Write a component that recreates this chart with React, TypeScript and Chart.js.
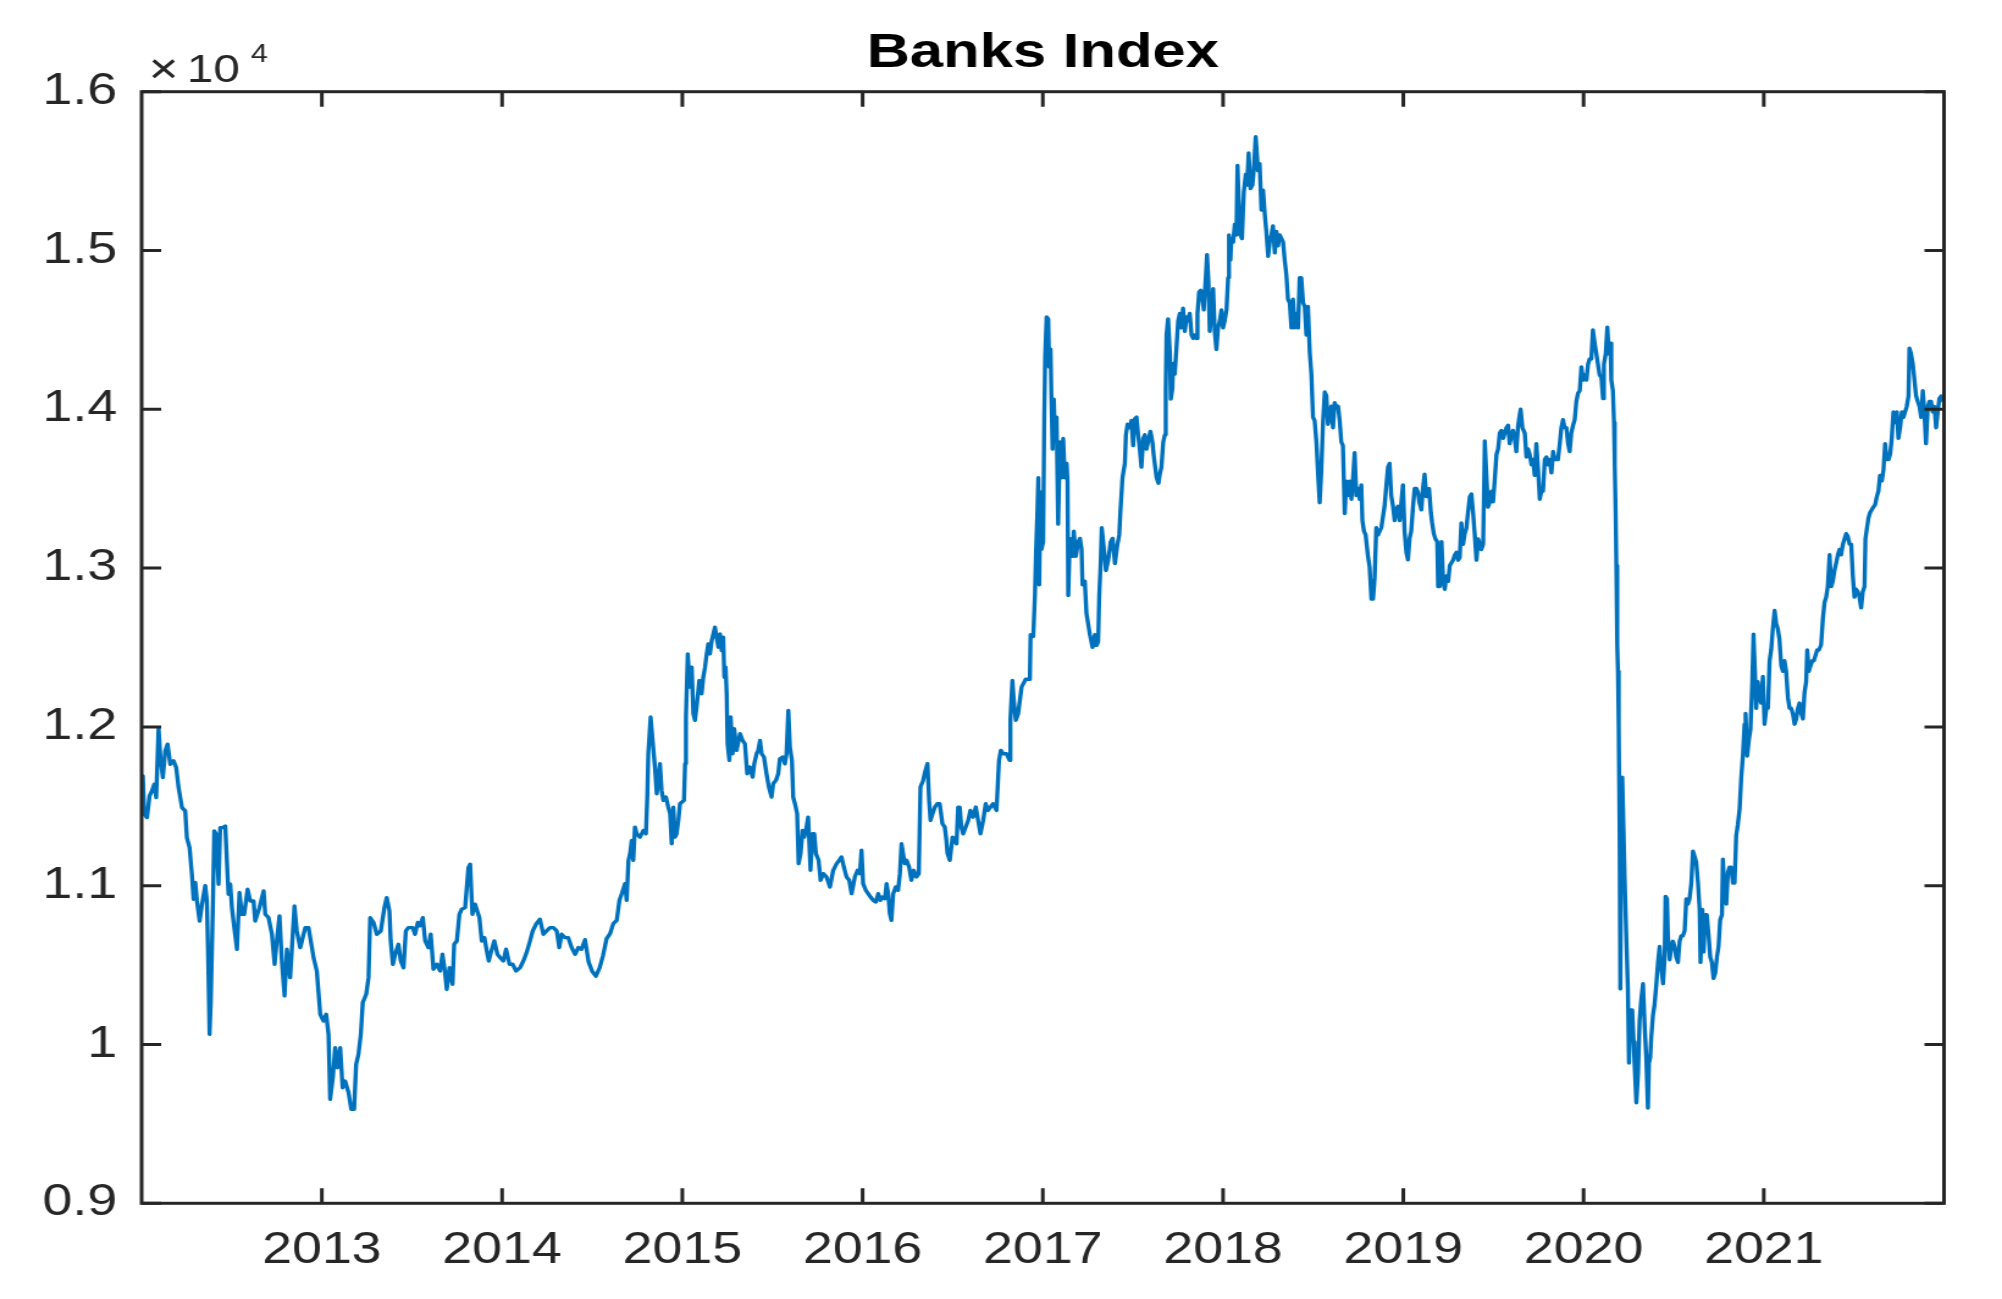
import React, { useEffect, useRef } from "react";
import { Chart, registerables } from "chart.js";

Chart.register(...registerables);

const titleText = "Banks Index";
const exponentBase = "10";
const exponentPower = "4";
const yearTicks = [2013, 2014, 2015, 2016, 2017, 2018, 2019, 2020, 2021];
const yTickValues = [9000, 10000, 11000, 12000, 13000, 14000, 15000, 16000];

// decimal-year dates of the samples
const dates = [
  2012.003, 2012.007, 2012.015, 2012.030, 2012.044, 2012.057, 2012.070, 2012.081, 2012.094, 2012.104,
  2012.118, 2012.131, 2012.144, 2012.159, 2012.177, 2012.192, 2012.205, 2012.224, 2012.242, 2012.251,
  2012.266, 2012.279, 2012.288, 2012.298, 2012.307, 2012.322, 2012.335, 2012.353, 2012.362, 2012.368,
  2012.377, 2012.384, 2012.396, 2012.403, 2012.414, 2012.427, 2012.436, 2012.451, 2012.464, 2012.473,
  2012.482, 2012.492, 2012.501, 2012.514, 2012.529, 2012.543, 2012.556, 2012.569, 2012.588, 2012.603,
  2012.621, 2012.630, 2012.654, 2012.677, 2012.686, 2012.704, 2012.723, 2012.738, 2012.750, 2012.765,
  2012.778, 2012.793, 2012.806, 2012.824, 2012.848, 2012.861, 2012.880, 2012.908, 2012.926, 2012.945,
  2012.954, 2012.972, 2012.991,
  2013.009, 2013.024, 2013.037, 2013.046, 2013.061, 2013.074, 2013.087, 2013.102, 2013.115, 2013.129,
  2013.148, 2013.163, 2013.179, 2013.190, 2013.203, 2013.216, 2013.227, 2013.246, 2013.259, 2013.268,
  2013.287, 2013.305, 2013.327, 2013.347, 2013.360, 2013.375, 2013.382, 2013.394, 2013.407, 2013.425,
  2013.438, 2013.453, 2013.466, 2013.480, 2013.504, 2013.517, 2013.532, 2013.545, 2013.560, 2013.573,
  2013.591, 2013.604, 2013.619, 2013.638, 2013.656, 2013.669, 2013.680, 2013.693, 2013.708, 2013.725,
  2013.734, 2013.749, 2013.763, 2013.776, 2013.795, 2013.813, 2013.823, 2013.835, 2013.850, 2013.874,
  2013.887, 2013.902, 2013.915, 2013.926, 2013.943, 2013.957, 2013.974, 2013.989,
  2014.007, 2014.022, 2014.041, 2014.059, 2014.077, 2014.100, 2014.118, 2014.136, 2014.155, 2014.170,
  2014.188, 2014.210, 2014.229, 2014.247, 2014.266, 2014.284, 2014.303, 2014.317, 2014.330, 2014.349,
  2014.367, 2014.386, 2014.405, 2014.423, 2014.440, 2014.460, 2014.480, 2014.500, 2014.520, 2014.540,
  2014.560, 2014.580, 2014.599, 2014.617, 2014.636, 2014.651, 2014.664, 2014.682, 2014.691, 2014.701,
  2014.710, 2014.719, 2014.728, 2014.737, 2014.747, 2014.765, 2014.784, 2014.798, 2014.806, 2014.811,
  2014.824, 2014.835, 2014.848, 2014.858, 2014.876, 2014.885, 2014.895, 2014.909, 2014.922, 2014.932,
  2014.941, 2014.950, 2014.959, 2014.968, 2014.978, 2014.987,
  2015.009, 2015.015, 2015.020, 2015.030, 2015.042, 2015.052, 2015.061, 2015.070, 2015.079, 2015.094,
  2015.107, 2015.116, 2015.126, 2015.135, 2015.144, 2015.153, 2015.163, 2015.172, 2015.181, 2015.190,
  2015.200, 2015.209, 2015.218, 2015.227, 2015.233, 2015.240, 2015.246, 2015.251, 2015.261, 2015.268,
  2015.279, 2015.288, 2015.301, 2015.320, 2015.334, 2015.347, 2015.360, 2015.375, 2015.390, 2015.399,
  2015.412, 2015.421, 2015.431, 2015.440, 2015.453, 2015.467, 2015.480, 2015.495, 2015.504, 2015.519,
  2015.532, 2015.541, 2015.556, 2015.569, 2015.578, 2015.588, 2015.597, 2015.608, 2015.615, 2015.625,
  2015.637, 2015.645, 2015.656, 2015.667, 2015.676, 2015.689, 2015.698, 2015.711, 2015.722, 2015.732,
  2015.741, 2015.756, 2015.767, 2015.782, 2015.800, 2015.819, 2015.837, 2015.856, 2015.870, 2015.883,
  2015.896, 2015.911, 2015.926, 2015.939, 2015.957, 2015.972, 2015.985, 2015.994,
  2016.003, 2016.018, 2016.031, 2016.044, 2016.059, 2016.074, 2016.087, 2016.099, 2016.111, 2016.124,
  2016.133, 2016.142, 2016.151, 2016.160, 2016.170, 2016.184, 2016.197, 2016.207, 2016.216, 2016.225,
  2016.234, 2016.244, 2016.258, 2016.271, 2016.284, 2016.299, 2016.312, 2016.321, 2016.336, 2016.349,
  2016.360, 2016.369, 2016.377, 2016.388, 2016.401, 2016.414, 2016.428, 2016.443, 2016.456, 2016.465,
  2016.471, 2016.484, 2016.499, 2016.511, 2016.521, 2016.530, 2016.539, 2016.548, 2016.558, 2016.572,
  2016.586, 2016.598, 2016.613, 2016.628, 2016.641, 2016.654, 2016.669, 2016.683, 2016.696, 2016.709,
  2016.724, 2016.743, 2016.757, 2016.767, 2016.780, 2016.798, 2016.816, 2016.820, 2016.831, 2016.839,
  2016.850, 2016.863, 2016.882, 2016.905, 2016.928, 2016.932, 2016.947, 2016.956, 2016.962, 2016.969,
  2016.975, 2016.980, 2016.987, 2016.993,
  2017.002, 2017.008, 2017.013, 2017.021, 2017.030, 2017.035, 2017.043, 2017.048, 2017.054, 2017.061,
  2017.067, 2017.076, 2017.085, 2017.095, 2017.104, 2017.113, 2017.122, 2017.132, 2017.137, 2017.141,
  2017.150, 2017.165, 2017.172, 2017.183, 2017.196, 2017.206, 2017.215, 2017.220, 2017.233, 2017.242,
  2017.252, 2017.261, 2017.276, 2017.289, 2017.298, 2017.307, 2017.313, 2017.320, 2017.327, 2017.339,
  2017.350, 2017.363, 2017.376, 2017.387, 2017.400, 2017.413, 2017.424, 2017.431, 2017.442, 2017.455,
  2017.461, 2017.470, 2017.483, 2017.492, 2017.501, 2017.510, 2017.520, 2017.529, 2017.538, 2017.547,
  2017.557, 2017.566, 2017.575, 2017.584, 2017.597, 2017.608, 2017.616, 2017.631, 2017.642, 2017.649,
  2017.658, 2017.668, 2017.677, 2017.682, 2017.686, 2017.695, 2017.705, 2017.710, 2017.719, 2017.723,
  2017.732, 2017.741, 2017.751, 2017.760, 2017.769, 2017.778, 2017.788, 2017.797, 2017.806, 2017.815,
  2017.825, 2017.834, 2017.843, 2017.852, 2017.858, 2017.867, 2017.876, 2017.886, 2017.893, 2017.904,
  2017.911, 2017.919, 2017.926, 2017.935, 2017.945, 2017.954, 2017.963, 2017.972, 2017.982, 2017.991,
  2018.000, 2018.009, 2018.019, 2018.028, 2018.033, 2018.041, 2018.046, 2018.056, 2018.065, 2018.074,
  2018.080, 2018.087, 2018.096, 2018.105, 2018.115, 2018.126, 2018.133, 2018.142, 2018.152, 2018.163,
  2018.170, 2018.181, 2018.189, 2018.194, 2018.203, 2018.213, 2018.222, 2018.231, 2018.240, 2018.250,
  2018.259, 2018.268, 2018.277, 2018.287, 2018.296, 2018.305, 2018.314, 2018.324, 2018.333, 2018.342,
  2018.351, 2018.360, 2018.370, 2018.379, 2018.388, 2018.397, 2018.407, 2018.416, 2018.425, 2018.434,
  2018.444, 2018.453, 2018.462, 2018.471, 2018.481, 2018.490, 2018.499, 2018.508, 2018.518, 2018.527,
  2018.536, 2018.545, 2018.555, 2018.564, 2018.573, 2018.582, 2018.591, 2018.601, 2018.610, 2018.619,
  2018.628, 2018.638, 2018.647, 2018.656, 2018.665, 2018.675, 2018.684, 2018.693, 2018.702, 2018.712,
  2018.721, 2018.730, 2018.739, 2018.749, 2018.758, 2018.767, 2018.773, 2018.782, 2018.791, 2018.804,
  2018.813, 2018.823, 2018.832, 2018.841, 2018.850, 2018.860, 2018.869, 2018.878, 2018.887, 2018.896,
  2018.906, 2018.915, 2018.924, 2018.933, 2018.943, 2018.952, 2018.961, 2018.970, 2018.980, 2018.989,
  2018.998,
  2019.007, 2019.017, 2019.026, 2019.035, 2019.044, 2019.054, 2019.063, 2019.072, 2019.081, 2019.090,
  2019.100, 2019.109, 2019.118,
  2019.128, 2019.143, 2019.153, 2019.160, 2019.169, 2019.178, 2019.188, 2019.193,
  2019.202, 2019.212, 2019.221, 2019.230, 2019.239, 2019.249, 2019.258, 2019.267, 2019.276, 2019.286,
  2019.295, 2019.304, 2019.313, 2019.322, 2019.332, 2019.341, 2019.350, 2019.359, 2019.369, 2019.378,
  2019.387, 2019.396, 2019.406, 2019.415, 2019.424, 2019.433, 2019.443, 2019.452, 2019.461, 2019.470,
  2019.480, 2019.489, 2019.498, 2019.507, 2019.517, 2019.526, 2019.535, 2019.544, 2019.554, 2019.563,
  2019.572, 2019.581, 2019.590, 2019.600, 2019.609, 2019.618, 2019.627, 2019.637, 2019.646, 2019.651,
  2019.661, 2019.674, 2019.683, 2019.692, 2019.701, 2019.711, 2019.720, 2019.729, 2019.738, 2019.748,
  2019.757, 2019.766, 2019.775, 2019.785, 2019.794, 2019.803, 2019.812, 2019.822, 2019.831, 2019.840,
  2019.849, 2019.858, 2019.868, 2019.877, 2019.886, 2019.895, 2019.905, 2019.914, 2019.923, 2019.932,
  2019.942, 2019.951, 2019.960, 2019.969, 2019.979, 2019.988, 2019.997,
  2020.006, 2020.016, 2020.025, 2020.034, 2020.043, 2020.052, 2020.062, 2020.071, 2020.080, 2020.089,
  2020.099, 2020.108, 2020.113, 2020.123, 2020.132, 2020.141, 2020.149, 2020.154, 2020.163, 2020.169,
  2020.173, 2020.178, 2020.182, 2020.187, 2020.191, 2020.195, 2020.200, 2020.204, 2020.209, 2020.215,
  2020.222, 2020.228, 2020.237, 2020.246, 2020.252, 2020.259, 2020.270, 2020.278, 2020.283, 2020.293,
  2020.302, 2020.311, 2020.320, 2020.330, 2020.339, 2020.348, 2020.357, 2020.363, 2020.370, 2020.376,
  2020.385, 2020.394, 2020.404, 2020.413, 2020.422, 2020.431, 2020.441, 2020.450, 2020.455, 2020.463,
  2020.468, 2020.478, 2020.487, 2020.496, 2020.505, 2020.514, 2020.524, 2020.533, 2020.542, 2020.551,
  2020.561, 2020.570, 2020.579, 2020.588, 2020.598, 2020.607, 2020.616, 2020.625, 2020.635, 2020.644,
  2020.649, 2020.659, 2020.666, 2020.675, 2020.684, 2020.694, 2020.703, 2020.712, 2020.721, 2020.731,
  2020.740, 2020.749, 2020.758, 2020.768, 2020.773, 2020.782, 2020.792, 2020.801, 2020.810, 2020.819,
  2020.829, 2020.838, 2020.847, 2020.856, 2020.866, 2020.875, 2020.884, 2020.893, 2020.899, 2020.908,
  2020.917, 2020.926, 2020.936, 2020.943, 2020.951, 2020.958, 2020.967, 2020.976, 2020.986, 2020.995,
  2021.004, 2021.014, 2021.023, 2021.032, 2021.041, 2021.050, 2021.060, 2021.069, 2021.078, 2021.087,
  2021.097, 2021.106, 2021.115, 2021.124, 2021.134, 2021.143, 2021.152, 2021.161, 2021.171, 2021.180,
  2021.189, 2021.198, 2021.208, 2021.217, 2021.226, 2021.235, 2021.241, 2021.250, 2021.259, 2021.269,
  2021.278, 2021.287, 2021.296, 2021.306, 2021.318, 2021.328, 2021.337, 2021.346, 2021.355, 2021.365,
  2021.374, 2021.383, 2021.392, 2021.402, 2021.411, 2021.420, 2021.429, 2021.439, 2021.448, 2021.457,
  2021.466, 2021.476, 2021.485, 2021.494, 2021.503, 2021.512, 2021.522, 2021.531, 2021.540, 2021.549,
  2021.559, 2021.564, 2021.572, 2021.581, 2021.590, 2021.599, 2021.608, 2021.618, 2021.627, 2021.636,
  2021.645, 2021.655, 2021.664, 2021.673, 2021.682, 2021.692, 2021.701, 2021.710, 2021.719, 2021.729,
  2021.738, 2021.747, 2021.756, 2021.766, 2021.775, 2021.784, 2021.793, 2021.803, 2021.808, 2021.817,
  2021.827, 2021.836, 2021.845, 2021.854, 2021.864, 2021.873, 2021.882, 2021.891, 2021.900, 2021.910,
  2021.919, 2021.928, 2021.937, 2021.947, 2021.956, 2021.965, 2021.974, 2021.984, 2021.997,
];

// index level at each date
const values = [
  11576, 11691, 11450, 11429, 11566, 11597, 11639, 11555, 11996, 11807,
  11681, 11849, 11891, 11765, 11786, 11744, 11618, 11492, 11471, 11303,
  11240, 11072, 10915, 11020, 10904, 10778, 10883, 11000, 10904, 10610,
  10064, 10274, 10904, 11345, 11324, 11009, 11366, 11366, 11376, 11156,
  10946, 11009, 10862, 10736, 10600, 10957, 10820, 10820, 10978, 10904,
  10904, 10778, 10862, 10967, 10820, 10799, 10694, 10505, 10652, 10810,
  10526, 10306, 10600, 10421, 10873, 10715, 10610, 10736, 10736, 10610,
  10547, 10463, 10190,
  10148, 10190, 10064, 9655, 9791, 9980, 9854, 9980, 9728, 9770,
  9697, 9592, 9592, 9875, 9938, 10064, 10264, 10316, 10421, 10799,
  10768, 10694, 10715, 10862, 10925, 10841, 10652, 10505, 10568, 10631,
  10526, 10484, 10715, 10736, 10736, 10694, 10768, 10747, 10799, 10652,
  10610, 10694, 10474, 10505, 10463, 10568, 10484, 10348, 10484, 10379,
  10631, 10652, 10820, 10852, 10862, 11114, 11135, 10820, 10883, 10799,
  10652, 10673, 10589, 10526, 10600, 10652, 10568, 10547,
  10526, 10600, 10505, 10505, 10463, 10484, 10526, 10579, 10652, 10715,
  10757, 10789, 10694, 10715, 10736, 10736, 10715, 10610, 10694, 10673,
  10673, 10610, 10568, 10610, 10600, 10660, 10520, 10460, 10430, 10480,
  10560, 10667, 10698, 10761, 10782, 10908, 10950, 11013, 10908, 11160,
  11202, 11285, 11160, 11369, 11327, 11306, 11348, 11327, 11579, 11831,
  12062, 11915, 11747, 11579, 11768, 11600, 11537, 11558, 11495, 11453,
  11264, 11495, 11306, 11327, 11411, 11516,
  11537, 11768, 12062, 12460, 12251, 12376, 12083, 12041, 12125, 12292,
  12209, 12313, 12376, 12460, 12523, 12460, 12544, 12586, 12628, 12565,
  12502, 12586, 12481, 12565, 12313, 12376, 12209, 11894, 11789, 12062,
  11831, 11988, 11852, 11957, 11915, 11894, 11705, 11747, 11684, 11768,
  11831, 11852, 11915, 11831, 11810, 11705, 11621, 11558, 11642, 11663,
  11705, 11799, 11810, 11768, 11831, 12104, 11873, 11789, 11558, 11516,
  11453, 11139, 11202, 11348, 11306, 11369, 11432, 11097, 11327, 11327,
  11202, 11160, 11034, 11076, 11055, 10992, 11097, 11139, 11160, 11181,
  11118, 11055, 11034, 10950, 11055, 11097, 11076, 11223,
  11013, 10971, 10950, 10929, 10908, 10897, 10950, 10908, 10929, 10918,
  11013, 10950, 10824, 10782, 10950, 10992, 10971, 11076, 11264, 11202,
  11139, 11160, 11118, 11034, 11097, 11055, 11076, 11621, 11663, 11726,
  11768, 11537, 11411, 11453, 11495, 11516, 11516, 11390, 11369, 11285,
  11202, 11160, 11306, 11285, 11264, 11495, 11495, 11369, 11327, 11369,
  11411, 11474, 11432, 11495, 11411, 11327, 11411, 11516, 11474, 11495,
  11516, 11474, 11789, 11852, 11831, 11831, 11789, 12041, 12292, 12167,
  12041, 12083, 12250, 12300, 12299, 12580, 12569, 12827, 13097, 13322,
  13569, 12895, 13479, 13119,
  13164, 13951, 14333, 14581, 14569, 14266, 14378, 14064, 13749, 14064,
  13839, 13951, 13277, 13794, 13569, 13816, 13569, 13659, 13547, 12827,
  13187, 13074, 13232, 13074, 13164, 13187, 13119, 12895, 12917, 12715,
  12647, 12580, 12501, 12580, 12513, 12535, 12827, 13007, 13254, 13119,
  12985, 13052, 13164, 13187, 13029, 13142, 13209, 13367, 13569, 13659,
  13839, 13906, 13884, 13929, 13771, 13940, 13951, 13839, 13749, 13636,
  13816, 13839, 13749, 13794, 13861, 13794, 13704, 13569, 13535, 13591,
  13636, 13794, 13839, 14131, 14468, 14569, 14356, 14064, 14131, 14288,
  14221, 14378, 14558, 14603, 14513, 14637, 14491, 14581, 14558, 14603,
  14468, 14446, 14468, 14446, 14603, 14738, 14749, 14693, 14626, 14828,
  14974, 14805, 14491, 14603, 14760, 14491, 14378, 14513, 14558, 14626,
  14513, 14558, 14626, 14828, 15098, 14940, 15075, 15053, 15165, 15098,
  15536, 15322, 15098, 15075, 15367, 15480, 15412, 15615, 15390, 15412,
  15502, 15716, 15592, 15502, 15547, 15255, 15379, 15233, 15120, 14963,
  15053, 15098, 15154, 14985, 15120, 15030, 15098, 15075, 15053, 14940,
  14850, 14693, 14671, 14513, 14693, 14513, 14603, 14513, 14828, 14828,
  14671, 14648, 14468, 14648, 14356, 14221, 13951, 13929, 13794, 13591,
  13412, 13614, 13929, 14109, 14086, 13906, 13951, 14019, 13884, 14041,
  14019, 14019, 13929, 13794, 13771, 13344, 13547, 13457, 13547, 13434,
  13569, 13726, 13457, 13502, 13434, 13524, 13299, 13232, 13209, 13074,
  13007, 12805, 12805, 12940, 13254, 13209, 13232, 13254, 13322, 13389,
  13524, 13636, 13659, 13457, 13389, 13299, 13367, 13389, 13299, 13412,
  13524,
  13232, 13097, 13052, 13187, 13232, 13389, 13502, 13502, 13479, 13412,
  13367, 13502, 13591,
  13450, 13500, 13350, 13284, 13217, 13184, 13167, 12884,
  12884, 13167, 12917, 12867, 12950, 12917, 13017, 13034, 13050, 13084,
  13100, 13050, 13067, 13284, 13150, 13217, 13250, 13350, 13450, 13467,
  13350, 13217, 13050, 13184, 13150, 13117, 13150, 13800, 13584, 13384,
  13417, 13484, 13417, 13550, 13717, 13750, 13850, 13867, 13817, 13850,
  13884, 13900, 13784, 13834, 13867, 13817, 13734, 13900, 13967, 14000,
  13884, 13850, 13700, 13750, 13717, 13650, 13684, 13584, 13784, 13617,
  13434, 13484, 13484, 13684, 13700, 13650, 13684, 13600, 13734, 13684,
  13684, 13684, 13784, 13884, 13934, 13884, 13884, 13784, 13734, 13850,
  13900, 13934, 14050, 14100, 14117, 14267, 14184,
  14217, 14184, 14284, 14317, 14317, 14500, 14417, 14350, 14284, 14217,
  14200, 14067, 14284, 14350, 14517, 14350, 14417, 14184, 14117, 13917,
  13650, 13350, 13017, 12517, 12350, 12017, 11350, 10350, 11317, 11684,
  11350, 11050, 10684, 10350, 9883, 10217, 10217, 10017, 9883, 9633,
  9817, 10150, 10283, 10383, 10117, 9917, 9600, 9883, 9917, 10050,
  10184, 10250, 10383, 10517, 10617, 10484, 10383, 10550, 10933, 10917,
  10684, 10534, 10617, 10650, 10617, 10550, 10517, 10650, 10684, 10684,
  10717, 10917, 10884, 10917, 11017, 11217, 11184, 11150, 11017, 10850,
  10517, 10850, 10583, 10817, 10817, 10684, 10550, 10517, 10417, 10450,
  10550, 10617, 10784, 10817, 11167, 10950, 10884, 11084, 11117, 11117,
  11017, 11017, 11317, 11384, 11484, 11684, 11817, 12017, 12084, 11817,
  11917, 11984, 12284, 12584, 12350, 12117, 12284, 12184, 12150, 12317,
  12017, 12117, 12117, 12417, 12484, 12617, 12734, 12650, 12617, 12550,
  12384, 12350, 12417, 12350, 12184, 12117, 12117, 12084, 12017, 12050,
  12117, 12150, 12084, 12050, 12217, 12284, 12484, 12350, 12384, 12417,
  12417, 12450, 12484, 12484, 12517, 12684, 12784, 12817, 12884, 13084,
  12884, 12917, 12984, 13034, 13084, 13117, 13084, 13150, 13184, 13217,
  13200, 13150, 13150, 12950, 12817, 12867, 12850, 12817, 12750, 12850,
  12884, 13184, 13250, 13317, 13350, 13367, 13384, 13400, 13450, 13484,
  13584, 13550, 13617, 13784, 13684, 13684, 13717, 13817, 13984, 13917,
  13984, 13817, 13884, 13984, 13950, 13984, 14017, 14084, 14384, 14350,
  14284, 14184, 14084, 14050, 14017, 13950, 14117, 13984, 13784, 14017,
  14050, 14050, 13984, 14017, 13884, 13984, 14067, 14084, 14050,
];

const X_MIN = 2012;
const X_MAX = 2022;
const Y_MIN = 9000;
const Y_MAX = 16000;

// The reference is a horizontally stretched figure: draw at 1640 wide, show at 2002 wide.
const CANVAS_W = 1640;
const CANVAS_H = 1299;
const SHOW_W = 2002;
const FONT = '"Liberation Sans", Arial, Helvetica, sans-serif';
const INK = "#262626";
const LINE_BLUE = "#0072BD";

export default function App() {
  const canvasRef = useRef<HTMLCanvasElement | null>(null);

  useEffect(() => {
    document.body.style.margin = "0";
    const canvas = canvasRef.current;
    if (!canvas) return;

    const n = Math.min(dates.length, values.length);
    const points = [];
    for (let i = 0; i < n; i++) points.push({ x: dates[i], y: values[i] });

    const axesPlugin = {
      id: "matlabAxes",
      afterDraw(chart: any) {
        const { ctx, chartArea: a, scales } = chart;
        const xs = scales.x;
        const ys = scales.y;
        ctx.save();
        ctx.strokeStyle = INK;
        ctx.lineWidth = 3;
        ctx.lineCap = "butt";
        ctx.beginPath();
        for (const t of yearTicks) {
          const px = xs.getPixelForValue(t);
          ctx.moveTo(px, a.bottom);
          ctx.lineTo(px, a.bottom - 15);
          ctx.moveTo(px, a.top);
          ctx.lineTo(px, a.top + 15);
        }
        for (const v of yTickValues) {
          const py = ys.getPixelForValue(v);
          ctx.moveTo(a.left, py);
          ctx.lineTo(a.left + 16, py);
          ctx.moveTo(a.right, py);
          ctx.lineTo(a.right - 16, py);
        }
        ctx.stroke();
        ctx.lineJoin = "miter";
        ctx.strokeRect(a.left, a.top, a.right - a.left, a.bottom - a.top);

        // axis exponent label: ×10^4
        ctx.fillStyle = INK;
        ctx.textAlign = "center";
        ctx.textBaseline = "middle";
        ctx.font = `42px ${FONT}`;
        ctx.fillText("×", a.left + 18, a.top - 20);
        ctx.textAlign = "left";
        ctx.textBaseline = "alphabetic";
        ctx.font = `39px ${FONT}`;
        ctx.fillText(exponentBase, a.left + 37, a.top - 10);
        ctx.font = `25px ${FONT}`;
        ctx.fillText(exponentPower, a.left + 89.5, a.top - 30);
        ctx.restore();
      },
    };

    const chart = new Chart(canvas, {
      type: "line",
      data: {
        datasets: [
          {
            label: titleText,
            data: points,
            borderColor: LINE_BLUE,
            backgroundColor: LINE_BLUE,
            borderWidth: 3.4,
            pointRadius: 0,
            pointHoverRadius: 0,
            tension: 0,
            fill: false,
            borderJoinStyle: "round",
            borderCapStyle: "round",
          },
        ],
      },
      options: {
        responsive: false,
        animation: false,
        devicePixelRatio: 1,
        events: [],
        layout: { padding: { top: 0, left: 0, right: 47.5, bottom: 0 } },
        plugins: {
          legend: { display: false },
          tooltip: { enabled: false },
          title: {
            display: true,
            text: titleText,
            fullSize: false,
            color: "#000000",
            font: { family: FONT, size: 49, weight: "bold" },
            padding: { top: 23.6, bottom: 9.3 },
          },
        },
        scales: {
          x: {
            type: "linear",
            min: X_MIN,
            max: X_MAX,
            grid: { display: false, drawTicks: false },
            border: { display: false },
            ticks: {
              color: INK,
              font: { family: FONT, size: 44 },
              padding: 21.4,
              autoSkip: false,
              maxRotation: 0,
              minRotation: 0,
              callback: (v: any) => String(v),
            },
            afterBuildTicks: (s: any) => {
              s.ticks = yearTicks.map((v) => ({ value: v }));
            },
            afterFit: (s: any) => {
              s.height = 95.7;
            },
          },
          y: {
            type: "linear",
            min: Y_MIN,
            max: Y_MAX,
            grid: { display: false, drawTicks: false },
            border: { display: false },
            ticks: {
              stepSize: 1000,
              color: INK,
              font: { family: FONT, size: 44 },
              padding: 20,
              callback: (v: any) => String(+(Number(v) / 10000).toFixed(1)),
            },
            afterBuildTicks: (s: any) => {
              s.ticks = yTickValues.map((v) => ({ value: v }));
            },
            afterFit: (s: any) => {
              s.width = 116;
            },
          },
        },
      },
      plugins: [axesPlugin],
    } as any);

    return () => {
      chart.destroy();
    };
  }, []);

  return (
    <canvas
      ref={canvasRef}
      width={CANVAS_W}
      height={CANVAS_H}
      style={{ display: "block", width: `${SHOW_W}px`, height: `${CANVAS_H}px` }}
    />
  );
}
